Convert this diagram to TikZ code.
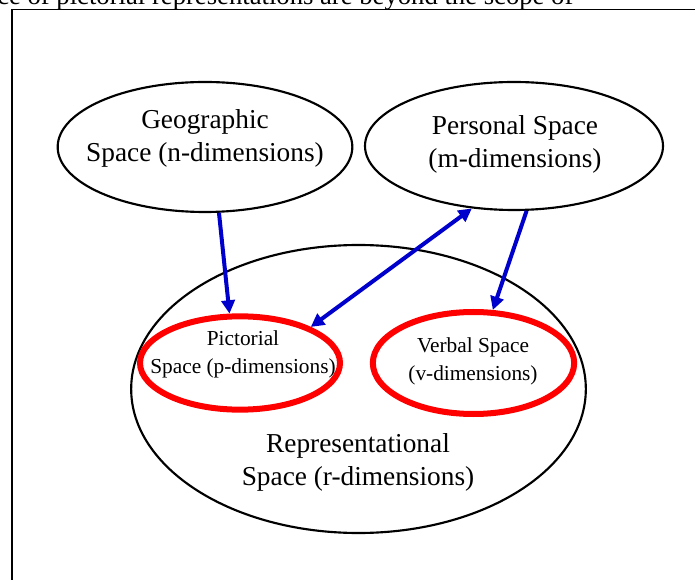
\documentclass[tikz,border=0pt]{standalone}
\usepackage{fontspec}
\setmainfont{Liberation Serif}
\usepackage{tikz}
\usetikzlibrary{shapes.geometric,arrows.meta}
\definecolor{linkblue}{RGB}{0, 0, 204}
\definecolor{subred}{RGB}{255, 0, 0}

\begin{document}
\begin{tikzpicture}[
    x=0.75pt, y=-0.75pt,
    >={Triangle[length=10pt, width=10pt]},
    space/.style={ellipse, draw=black, line width=1.6pt, inner sep=0pt},
    subspace/.style={ellipse, draw=subred, line width=4.5pt, inner sep=0pt},
    bigtext/.style={font=\fontsize{20.5}{25}\selectfont, align=center},
    smalltext/.style={font=\fontsize{16}{21}\selectfont, align=center},
    link/.style={->, linkblue, line width=3pt}
]
\useasboundingbox (0,0) rectangle (695,580);

% Page frame and cut-off text above it
\node[font=\fontsize{20}{24}\selectfont, anchor=base west, inner sep=0pt] (caption) at (-3,5) {ce of pictorial representations are beyond the scope of};
\coordinate (frametop) at (700,9.5);
\coordinate (framebot) at (12,600);
\draw[line width=0.9pt] (framebot) |- (frametop);

% Outer spaces
\node[space, minimum width=221pt, minimum height=97.5pt] (geo) at (205,147) {};
\node[space, minimum width=223.5pt, minimum height=96pt] (pers) at (514,146) {};
\node[space, minimum width=341pt, minimum height=216pt] (rep) at (358.5,389) {};

% Inner spaces
\node[subspace, minimum width=150pt, minimum height=70pt] (pict) at (240,363) {};
\node[subspace, minimum width=151pt, minimum height=76.5pt] (verb) at (473.5,363) {};

% Labels
\node[bigtext] (geotext) at (205,138.5) {Geographic\\Space (n-dimensions)};
\node[bigtext] (perstext) at (515,144.5) {Personal Space\\(m-dimensions)};
\node[bigtext] (reptext) at (358,462.5) {Representational\\Space (r-dimensions)};
\node[smalltext] (picttext) at (243,354) {Pictorial\\Space (p-dimensions)};
\node[smalltext] (verbtext) at (473,361) {Verbal Space\\(v-dimensions)};

% Links
\draw[link] (geo.-78.7) -- (pict.102);
\draw[link, <->] (pers.-124) -- (pict.27);
\draw[link] (pers.-79) -- (verb.70);

\end{tikzpicture}
\end{document}
